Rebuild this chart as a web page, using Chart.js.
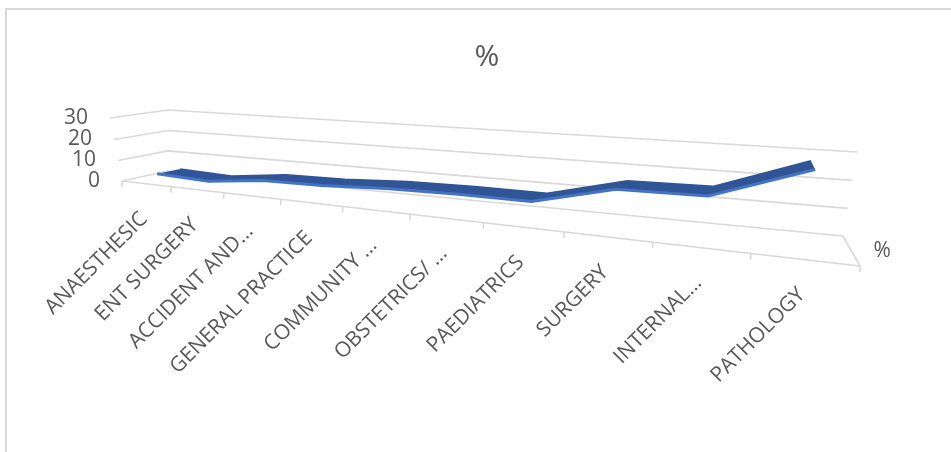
<!DOCTYPE html>
<html>
<head>
<meta charset="utf-8">
<script src="https://cdn.jsdelivr.net/npm/chart.js@4.4.1/dist/chart.umd.min.js"></script>
<style>
  html, body { margin: 0; padding: 0; background: #fff; overflow: hidden; }
  #frame { position: absolute; left: 5px; top: 8px; width: 990px; height: 490px;
           border-left: 2px solid #d9d9d9; border-top: 2px solid #d9d9d9; }
  #chart { position: absolute; left: 0; top: 0; }
</style>
</head>
<body>
<div id="frame"></div>
<canvas id="chart" width="951" height="452"></canvas>
<script>
const categories = ['ANAESTHESIC', 'ENT SURGERY', 'ACCIDENT AND…', 'GENERAL PRACTICE', 'COMMUNITY …',
                    'OBSTETRICS/ …', 'PAEDIATRICS', 'SURGERY', 'INTERNAL…', 'PATHOLOGY'];
const percent = [3.5, 2.5, 5.5, 6, 7.5, 8, 8, 15.5, 16, 27.5];
const yTicks = [0, 10, 20, 30];
const seriesName = '%';

const textColor = '#595959';
const gridColor = '#d9d9d9';

// square -> quad mapping, used to fake the 3D box of the original
function quadMap(p00, p10, p11, p01) {
  const [x0, y0] = p00, [x1, y1] = p10, [x2, y2] = p11, [x3, y3] = p01;
  const dx1 = x1 - x2, dx2 = x3 - x2, dx3 = x0 - x1 + x2 - x3;
  const dy1 = y1 - y2, dy2 = y3 - y2, dy3 = y0 - y1 + y2 - y3;
  const den = dx1 * dy2 - dx2 * dy1;
  const g = (dx3 * dy2 - dx2 * dy3) / den;
  const h = (dx1 * dy3 - dx3 * dy1) / den;
  const a = x1 - x0 + g * x1, b = x3 - x0 + h * x3;
  const d = y1 - y0 + g * y1, e = y3 - y0 + h * y3;
  return (u, v) => {
    const w = g * u + h * v + 1;
    return [(a * u + b * v + x0) / w, (d * u + e * v + y0) / w];
  };
}

const frontFace = quadMap([122, 181], [860, 266], [878, 170], [110, 118]);
const backWall = quadMap([168, 171], [843, 236], [857, 152], [168, 110]);

// u: along categories, t: along values, d: depth (0 front, 1 back)
function proj(u, t, d) {
  const f = frontFace(u, t), b = backWall(u, t);
  return { x: f[0] + (b[0] - f[0]) * d, y: f[1] + (b[1] - f[1]) * d };
}

function polyline(ctx, pts) {
  ctx.beginPath();
  pts.forEach((p, i) => i ? ctx.lineTo(p.x, p.y) : ctx.moveTo(p.x, p.y));
  ctx.stroke();
}

const perspective = {
  id: 'perspective',
  afterDatasetsUpdate(chart) {
    const xs = chart.scales.x, ys = chart.scales.y;
    chart.data.datasets.forEach((ds, i) => {
      const meta = chart.getDatasetMeta(i);
      meta.data.forEach(pt => {
        const p = proj((pt.x - xs.left) / xs.width, (ys.bottom - pt.y) / ys.height, ds.depth);
        pt.x = p.x;
        pt.y = p.y;
      });
      meta.dataset._path = undefined;
    });
  },
  beforeDatasetsDraw(chart) {
    const ctx = chart.ctx;
    const xs = chart.scales.x, ys = chart.scales.y;
    const tOf = v => (ys.bottom - ys.getPixelForValue(v)) / ys.height;
    const uOf = px => (px - xs.left) / xs.width;
    const step = xs.getPixelForValue(1) - xs.getPixelForValue(0);

    ctx.save();
    ctx.strokeStyle = gridColor;
    ctx.lineWidth = 1.6;
    yTicks.forEach(v => {
      const t = tOf(v);
      polyline(ctx, [proj(0, t, 0), proj(0, t, 1), proj(1, t, 1)]);
    });
    polyline(ctx, [proj(0, 0, 0), proj(1, 0, 0), proj(1, 0, 1)]);
    for (let i = 0; i <= categories.length; i++) {
      const p = proj(uOf(xs.getPixelForValue(i) - step / 2), 0, 0);
      polyline(ctx, [p, { x: p.x, y: p.y + 6 }]);
    }

    // ribbon top face between the back and front edge lines
    const backPts = chart.getDatasetMeta(0).data;
    const frontPts = chart.getDatasetMeta(1).data;
    ctx.fillStyle = '#2F5597';
    ctx.beginPath();
    frontPts.forEach((p, i) => i ? ctx.lineTo(p.x, p.y) : ctx.moveTo(p.x, p.y));
    for (let i = backPts.length - 1; i >= 0; i--) ctx.lineTo(backPts[i].x, backPts[i].y);
    ctx.closePath();
    ctx.fill();

    ctx.fillStyle = textColor;
    ctx.font = '21px "Open Sans"';
    ctx.textAlign = 'right';
    ctx.textBaseline = 'middle';
    yTicks.forEach(v => {
      const p = proj(0, tOf(v), 0);
      ctx.fillText(String(v), p.x - 22, p.y);
    });
    categories.forEach((c, i) => {
      const p = proj(uOf(xs.getPixelForValue(i)), 0, 0);
      ctx.save();
      ctx.translate(p.x - 2, p.y + 32);
      ctx.rotate(-Math.PI / 4);
      ctx.fillText(c, 0, 0);
      ctx.restore();
    });
    ctx.textAlign = 'left';
    const s = proj(1, 0, 0.5);
    ctx.fillText(seriesName, s.x + 22, s.y);
    ctx.restore();
  }
};

new Chart(document.getElementById('chart'), {
  type: 'line',
  data: {
    labels: categories,
    datasets: [
      { label: seriesName, data: percent, depth: 0.74, borderColor: '#2F5597', borderWidth: 1.5,
        pointRadius: 0, fill: false },
      { label: seriesName, data: percent, depth: 0.26, borderColor: '#4472C4', borderWidth: 3,
        pointRadius: 0, fill: false }
    ]
  },
  options: {
    responsive: false,
    animation: false,
    events: [],
    layout: { padding: { left: 23 } },
    scales: {
      x: { display: false, offset: true },
      y: { display: false, min: 0, max: 30 }
    },
    plugins: {
      legend: { display: false },
      tooltip: { enabled: false },
      title: {
        display: true, text: seriesName, color: textColor,
        font: { family: 'Open Sans', size: 30, weight: 'normal' },
        padding: { top: 39, bottom: 4 }
      }
    }
  },
  plugins: [perspective]
});
</script>
</body>
</html>
